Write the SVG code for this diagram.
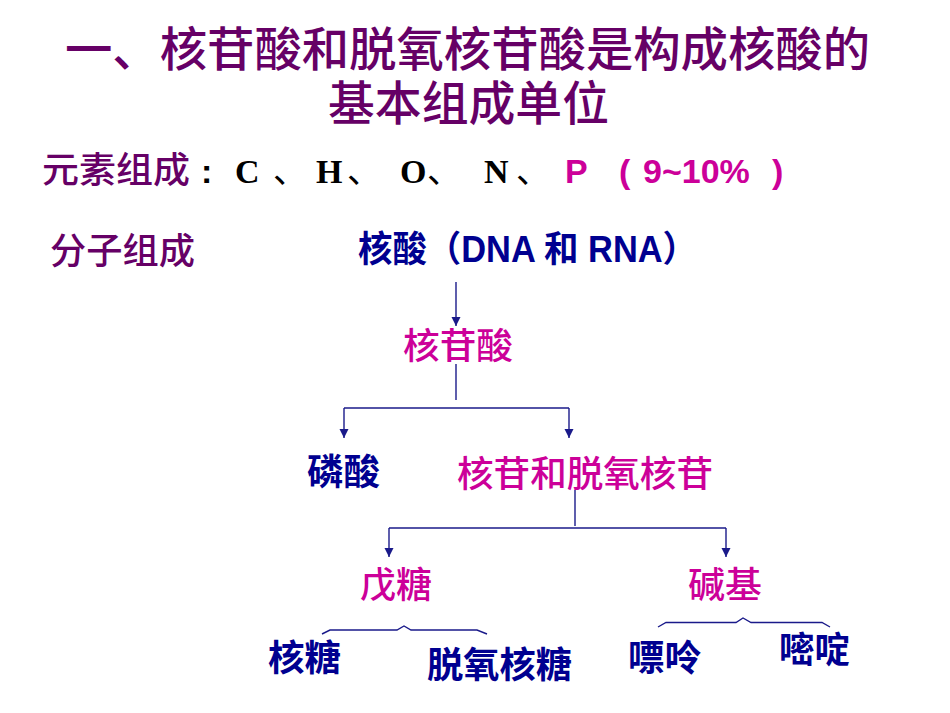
<svg xmlns="http://www.w3.org/2000/svg" width="950" height="713" viewBox="0 0 950 713">
<style>
.t{font-family:"Noto Sans CJK SC","Liberation Sans",sans-serif;}
.title{font-size:47px;font-weight:500;fill:#660066;}
.pur{font-size:36px;font-weight:500;fill:#660066;}
.blue{font-size:36px;font-weight:bold;fill:#000090;}
.mag{font-size:36px;font-weight:500;fill:#CC0099;}
.lat{font-family:"Liberation Sans","Noto Sans CJK SC",sans-serif;font-weight:bold;}
.ser{font-family:"Liberation Serif",serif;font-weight:bold;font-size:34px;fill:#000;}
.conn{stroke:#1a1a8a;stroke-width:1.4;fill:none;}
</style>
<defs>
<marker id="arr" viewBox="0 0 10 10" refX="10" refY="5" markerWidth="9" markerHeight="10" markerUnits="userSpaceOnUse" orient="auto">
<path d="M0,0 L10,5 L0,10 z" fill="#1a1a8a"/>
</marker>
</defs>
<g id="title">
<text class="t title" x="65" y="66" textLength="805" lengthAdjust="spacingAndGlyphs">一、核苷酸和脱氧核苷酸是构成核酸的</text>
<text class="t title" x="328" y="120" textLength="281" lengthAdjust="spacingAndGlyphs">基本组成单位</text>
</g>
<g id="elements">
<text class="t pur" x="42" y="183" textLength="148" lengthAdjust="spacingAndGlyphs">元素组成</text>
<text class="lat" x="201" y="183" font-size="34" fill="#000">:</text>
<text class="ser" x="235" y="183">C</text>
<text class="t" x="273" y="183" font-size="34" fill="#000">、</text>
<text class="ser" x="316" y="183">H</text>
<text class="t" x="347" y="183" font-size="34" fill="#000">、</text>
<text class="ser" x="400" y="183">O</text>
<text class="t" x="427" y="183" font-size="34" fill="#000">、</text>
<text class="ser" x="484" y="183">N</text>
<text class="t" x="516" y="183" font-size="34" fill="#000">、</text>
<text class="lat" x="565" y="183" font-size="34" fill="#CC0099">P</text>
<text class="lat" x="619" y="183" font-size="34" fill="#CC0099">(</text>
<text class="lat" x="643" y="183" font-size="34" fill="#CC0099">9~10%</text>
<text class="lat" x="772" y="183" font-size="34" fill="#CC0099">)</text>
</g>
<g id="molecule-label">
<text class="t pur" x="50" y="264" textLength="145" lengthAdjust="spacingAndGlyphs">分子组成</text>
</g>
<g id="nucleic-acid">
<text class="lat blue" x="358" y="262" font-size="34" textLength="339" lengthAdjust="spacingAndGlyphs">核酸（DNA 和 RNA）</text>
</g>
<g id="nucleotide">
<text class="t mag" x="403" y="359" textLength="110" lengthAdjust="spacingAndGlyphs">核苷酸</text>
</g>
<g id="phosphate">
<text class="t blue" x="307" y="485" textLength="73" lengthAdjust="spacingAndGlyphs">磷酸</text>
</g>
<g id="nucleoside">
<text class="t mag" x="457" y="487" textLength="256" lengthAdjust="spacingAndGlyphs">核苷和脱氧核苷</text>
</g>
<g id="pentose">
<text class="t mag" x="360" y="598" textLength="72" lengthAdjust="spacingAndGlyphs">戊糖</text>
</g>
<g id="base">
<text class="t mag" x="688" y="598" textLength="74" lengthAdjust="spacingAndGlyphs">碱基</text>
</g>
<g id="ribose">
<text class="t blue" x="268" y="671" textLength="73" lengthAdjust="spacingAndGlyphs">核糖</text>
</g>
<g id="deoxyribose">
<text class="t blue" x="427" y="678" textLength="145" lengthAdjust="spacingAndGlyphs">脱氧核糖</text>
</g>
<g id="purine">
<text class="t blue" x="628" y="671" textLength="73" lengthAdjust="spacingAndGlyphs">嘌呤</text>
</g>
<g id="pyrimidine">
<text class="t blue" x="779" y="663" textLength="71" lengthAdjust="spacingAndGlyphs">嘧啶</text>
</g>
<g id="connectors">
<path class="conn" d="M456,282 V326" marker-end="url(#arr)"/>
<path class="conn" d="M456,364 V400"/>
<path class="conn" d="M344,408 H569"/>
<path class="conn" d="M344,408 V438" marker-end="url(#arr)"/>
<path class="conn" d="M569,408 V438" marker-end="url(#arr)"/>
<path class="conn" d="M575,490 V526"/>
<path class="conn" d="M389,528 H726"/>
<path class="conn" d="M389,528 V557" marker-end="url(#arr)"/>
<path class="conn" d="M726,528 V557" marker-end="url(#arr)"/>
<path class="conn" d="M322,634 L330,630 H397 L404,626 L411,630 H477 L487,634"/>
<path class="conn" d="M658,627 L666,622.5 H736 L743,618 L751,622.5 H822 L830,627"/>
</g>
</svg>
